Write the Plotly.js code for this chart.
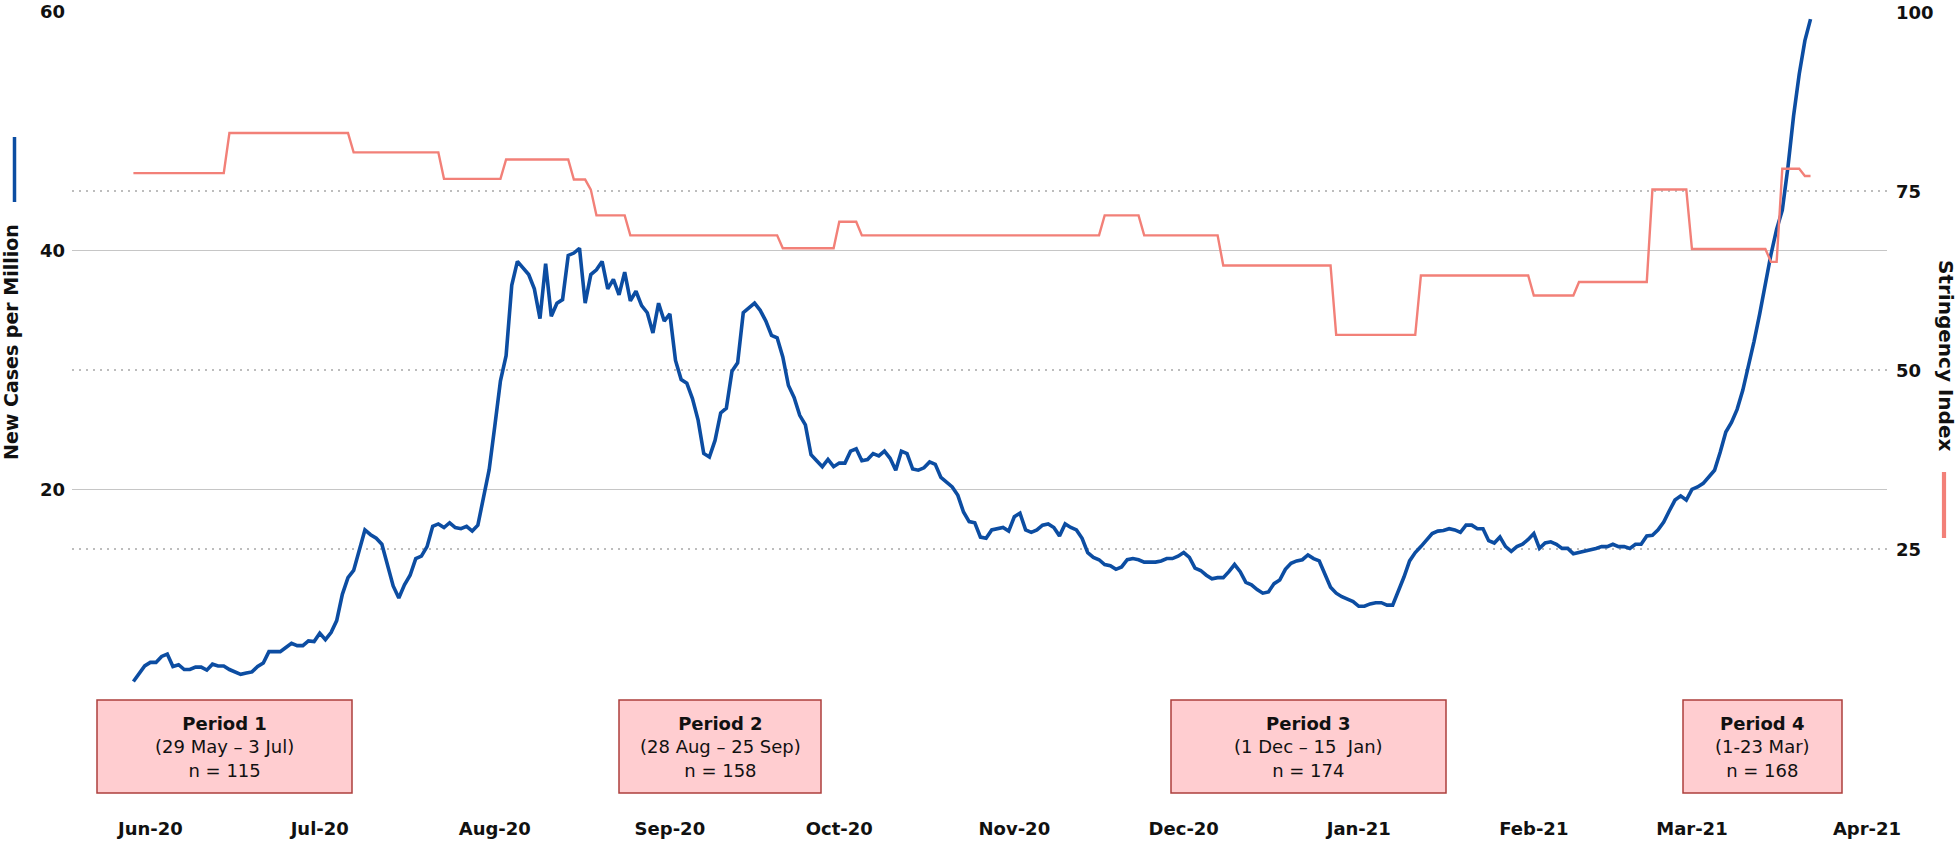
<!DOCTYPE html>
<html>
<head>
<meta charset="utf-8">
<script src="https://cdn.plot.ly/plotly-3.0.1.min.js"></script>
<style>
  html, body { margin: 0; padding: 0; background: #fff; }
  #chart { width: 1958px; height: 844px; }
</style>
</head>
<body>
<div id="chart"></div>
<script>
var caseDays = [
    0, 1, 2, 3, 4, 5, 6, 7, 8, 9, 10, 11, 12, 13, 14, 15, 16, 17, 19, 20,
    21, 22, 23, 24, 26, 27, 28, 29, 30, 31, 32, 33, 34, 35, 36, 37, 38, 39, 40, 41,
    42, 43, 44, 45, 46, 47, 48, 49, 50, 51, 52, 53, 54, 55, 56, 57, 58, 59, 60, 61,
    62, 63, 64, 65, 66, 67, 68, 69, 70, 71, 72, 73, 74, 75, 76, 77, 78, 79, 80, 81,
    82, 83, 84, 85, 86, 87, 88, 89, 90, 91, 92, 93, 94, 95, 96, 97, 98, 99, 100, 101,
    102, 103, 104, 105, 106, 107, 108, 109, 110, 111, 112, 113, 114, 115, 116, 117, 118, 119, 120, 121,
    122, 123, 124, 125, 126, 127, 128, 129, 130, 131, 132, 133, 134, 135, 136, 137, 138, 139, 140, 141,
    142, 143, 144, 145, 146, 147, 148, 149, 150, 151, 152, 153, 154, 155, 156, 157, 158, 159, 160, 161,
    162, 163, 164, 165, 166, 167, 168, 169, 170, 171, 172, 173, 174, 175, 176, 177, 178, 179, 180, 181,
    182, 183, 184, 185, 186, 187, 188, 189, 190, 191, 192, 193, 194, 195, 196, 197, 198, 199, 200, 201,
    202, 203, 204, 205, 206, 207, 208, 209, 210, 211, 212, 213, 214, 215, 216, 217, 218, 219, 220, 221,
    222, 223, 224, 225, 226, 227, 228, 229, 230, 231, 232, 233, 234, 235, 236, 237, 238, 239, 240, 241,
    242, 243, 244, 245, 246, 247, 248, 249, 250, 251, 252, 253, 254, 255, 256, 257, 258, 259, 260, 261,
    262, 263, 264, 265, 266, 267, 268, 269, 270, 271, 272, 273, 274, 275, 276, 277, 278, 279, 280, 281,
    282, 283, 284, 285, 286, 287, 288, 289, 290, 291, 292, 293, 294, 295, 296, 297
];
var caseValues = [
    3.9, 4.5, 5.2, 5.5, 5.5, 6.0, 6.2, 5.15, 5.3, 4.9, 4.9, 5.1, 5.1, 4.85, 5.35, 5.2, 5.2, 4.9, 4.5, 4.6,
    4.7, 5.15, 5.45, 6.4, 6.4, 6.75, 7.1, 6.9, 6.9, 7.3, 7.25, 7.95, 7.4, 8.0, 9.0, 11.2, 12.6, 13.2, 14.9, 16.6,
    16.2, 15.9, 15.4, 13.5, 11.9, 10.9, 12.0, 12.8, 14.2, 14.4, 15.2, 16.9, 17.1, 16.8, 17.2, 16.8, 16.7, 16.9, 16.5, 17.0,
    19.2, 21.65, 25.3, 29.1, 31.2, 37.1, 39.1, 38.5, 38.0, 36.8, 34.3, 38.9, 34.5, 35.6, 35.9, 39.6, 39.8, 40.2, 35.6, 38.0,
    38.4, 39.1, 36.8, 37.6, 36.3, 38.2, 35.8, 36.6, 35.4, 34.8, 33.1, 35.6, 34.1, 34.7, 30.8, 29.2, 28.9, 27.6, 25.8, 23.0,
    22.7, 24.1, 26.4, 26.8, 29.9, 30.6, 34.8, 35.2, 35.6, 35.0, 34.1, 32.9, 32.7, 31.1, 28.7, 27.7, 26.2, 25.4, 22.9, 22.4,
    21.9, 22.5, 21.9, 22.2, 22.2, 23.2, 23.4, 22.4, 22.5, 23.0, 22.8, 23.2, 22.6, 21.6, 23.2, 23.0, 21.7, 21.6, 21.8, 22.3,
    22.1, 21.0, 20.6, 20.2, 19.5, 18.1, 17.3, 17.2, 16.0, 15.9, 16.6, 16.7, 16.8, 16.5, 17.7, 18.0, 16.6, 16.4, 16.6, 17.0,
    17.1, 16.8, 16.1, 17.1, 16.8, 16.6, 15.9, 14.7, 14.3, 14.1, 13.7, 13.6, 13.3, 13.5, 14.1, 14.2, 14.1, 13.9, 13.9, 13.9,
    14.0, 14.2, 14.2, 14.4, 14.7, 14.3, 13.4, 13.2, 12.8, 12.5, 12.6, 12.6, 13.1, 13.7, 13.1, 12.2, 12.0, 11.6, 11.3, 11.4,
    12.1, 12.4, 13.3, 13.8, 14.0, 14.1, 14.5, 14.2, 14.0, 12.9, 11.8, 11.3, 11.0, 10.8, 10.6, 10.2, 10.2, 10.4, 10.5, 10.5,
    10.3, 10.3, 11.4, 12.65, 14.0, 14.7, 15.2, 15.8, 16.3, 16.5, 16.55, 16.7, 16.6, 16.4, 17.0, 17.0, 16.7, 16.7, 15.7, 15.5,
    16.0, 15.2, 14.8, 15.2, 15.4, 15.8, 16.3, 15.05, 15.5, 15.6, 15.4, 15.05, 15.05, 14.6, 14.7, 14.8, 14.9, 15.05, 15.2, 15.2,
    15.4, 15.2, 15.2, 15.05, 15.4, 15.4, 16.1, 16.15, 16.6, 17.25, 18.2, 19.1, 19.45, 19.1, 20.0, 20.2, 20.5, 21.0, 21.6, 23.1,
    24.8, 25.6, 26.7, 28.3, 30.2, 32.4, 34.7, 37.3, 39.7, 41.8, 43.4, 47.0, 51.3, 54.8, 57.6, 59.4
];

// Stringency index: first and last day of each level
var stringencyDays = [
    0, 16, 17, 38, 39, 54, 55, 65, 66, 77, 78, 80, 81, 82, 87, 88, 114, 115, 124, 125,
    128, 129, 171, 172, 178, 179, 192, 193, 212, 213, 227, 228, 247, 248, 255, 256, 268, 269, 275, 276,
    289, 290, 291, 292, 295, 296, 297
];
var stringencyValues = [
    77.5, 77.5, 83.1, 83.1, 80.4, 80.4, 76.7, 76.7, 79.4, 79.4, 76.6, 76.6, 75.2, 71.6, 71.6, 68.8, 68.8, 67.0, 67.0, 70.7,
    70.7, 68.8, 68.8, 71.6, 71.6, 68.8, 68.8, 64.6, 64.6, 54.9, 54.9, 63.2, 63.2, 60.4, 60.4, 62.3, 62.3, 75.2, 75.2, 66.9,
    66.9, 65.1, 65.1, 78.1, 78.1, 77.1, 77.1
];

var monthTicks = ['2020-06-01', '2020-07-01', '2020-08-01', '2020-09-01', '2020-10-01', '2020-11-01',
                  '2020-12-01', '2021-01-01', '2021-02-01', '2021-03-01', '2021-04-01'];
var monthLabels = ['Jun-20', 'Jul-20', 'Aug-20', 'Sep-20', 'Oct-20', 'Nov-20',
                   'Dec-20', 'Jan-21', 'Feb-21', 'Mar-21', 'Apr-21'];

var periodNames = ['Period 1', 'Period 2', 'Period 3', 'Period 4'];
var periodRanges = ['(29 May \u2013 3 Jul)', '(28 Aug \u2013 25 Sep)', '(1 Dec \u2013 15\u00a0 Jan)', '(1-23 Mar)'];
var periodN = [115, 158, 174, 168];

var casesTicks = [20, 40, 60];
var stringencyTicks = [25, 50, 75, 100];

// ---- page geometry (pixels) ----
var W = 1958, H = 844;
var M = {l: 72, r: 71, t: 12, b: 116};
var plotW = W - M.l - M.r, plotH = H - M.t - M.b;
function px(x) { return (x - M.l) / plotW; }
function py(y) { return (H - M.b - y) / plotH; }

var periodBoxPx = [[97, 352], [619, 821], [1171, 1446], [1683, 1842]];
var boxTop = 700, boxBottom = 793;

var FONT = '"DejaVu Sans", Verdana, sans-serif';
var BLUE = 'rgb(12,77,162)';
var RED = 'rgb(242,128,120)';
var tickFont = {family: FONT, size: 18, color: '#111', weight: 'bold'};

function toDate(d) {
    return new Date(Date.UTC(2020, 4, 29) + d * 86400000).toISOString().slice(0, 10);
}

var traces = [
    {
        x: caseDays.map(toDate),
        y: caseValues,
        mode: 'lines',
        line: {color: BLUE, width: 3.6},
        yaxis: 'y',
        hoverinfo: 'skip'
    },
    {
        x: stringencyDays.map(toDate),
        y: stringencyValues,
        mode: 'lines',
        line: {color: RED, width: 2.4},
        yaxis: 'y2',
        hoverinfo: 'skip'
    }
];

var shapes = [], annotations = [];

periodBoxPx.forEach(function(b, i) {
    shapes.push({
        type: 'rect', xref: 'paper', yref: 'paper', layer: 'above',
        x0: px(b[0]), x1: px(b[1]), y0: py(boxBottom), y1: py(boxTop),
        fillcolor: '#ffcdd0',
        line: {color: '#ad3f3c', width: 1.5}
    });
    annotations.push({
        xref: 'paper', yref: 'paper', showarrow: false,
        x: px((b[0] + b[1]) / 2), y: py((boxTop + boxBottom) / 2),
        xanchor: 'center', yanchor: 'middle', align: 'center',
        text: '<b>' + periodNames[i] + '</b><br>' + periodRanges[i] + '<br>n = ' + periodN[i],
        font: {family: FONT, size: 18, color: '#111'}
    });
});

// right-hand tick labels, placed just past the end of the gridlines
stringencyTicks.forEach(function(v) {
    annotations.push({
        xref: 'paper', yref: 'y2', showarrow: false,
        x: px(1894), y: v, xanchor: 'left', yanchor: 'middle',
        text: String(v),
        font: tickFont
    });
});

// axis titles, drawn as annotations so they can sit beside their colour keys
annotations.push({
    xref: 'paper', yref: 'paper', showarrow: false,
    x: px(11), y: py(342), xanchor: 'center', yanchor: 'middle',
    textangle: -90,
    text: '<b>New Cases per Million</b>',
    font: {family: FONT, size: 19, color: '#111'}
});
annotations.push({
    xref: 'paper', yref: 'paper', showarrow: false,
    x: px(1946), y: py(356), xanchor: 'center', yanchor: 'middle',
    textangle: 90,
    text: '<b>Stringency Index</b>',
    font: {family: FONT, size: 20, color: '#111'}
});

// colour keys next to the titles
shapes.push({
    type: 'line', xref: 'paper', yref: 'paper',
    x0: px(14.5), x1: px(14.5), y0: py(202), y1: py(137),
    line: {color: BLUE, width: 3.5}
});
shapes.push({
    type: 'line', xref: 'paper', yref: 'paper',
    x0: px(1944), x1: px(1944), y0: py(538), y1: py(472),
    line: {color: RED, width: 4.2}
});

var layout = {
    width: W, height: H,
    margin: M,
    paper_bgcolor: '#fff',
    plot_bgcolor: '#fff',
    showlegend: false,
    xaxis: {
        type: 'date',
        range: ['2020-05-18 03:00', '2021-04-04 13:00'],
        tickvals: monthTicks,
        ticktext: monthLabels,
        ticks: '',
        showgrid: false,
        zeroline: false,
        showline: false,
        ticklabelstandoff: 88,
        tickfont: tickFont
    },
    yaxis: {
        range: [0, 60],
        tickvals: casesTicks,
        ticks: '',
        showgrid: true,
        gridcolor: '#c6c6c6',
        gridwidth: 1.3,
        zeroline: false,
        showline: false,
        ticklabelstandoff: 6,
        tickfont: tickFont
    },
    yaxis2: {
        overlaying: 'y',
        side: 'right',
        range: [0, 100],
        tickvals: stringencyTicks,
        showticklabels: false,
        ticks: '',
        showgrid: true,
        gridcolor: '#bdbdbd',
        gridwidth: 1.2,
        griddash: '2px,5px',
        zeroline: false,
        showline: false
    },
    shapes: shapes,
    annotations: annotations
};

Plotly.newPlot('chart', traces, layout, {displayModeBar: false, staticPlot: true});
</script>
</body>
</html>
